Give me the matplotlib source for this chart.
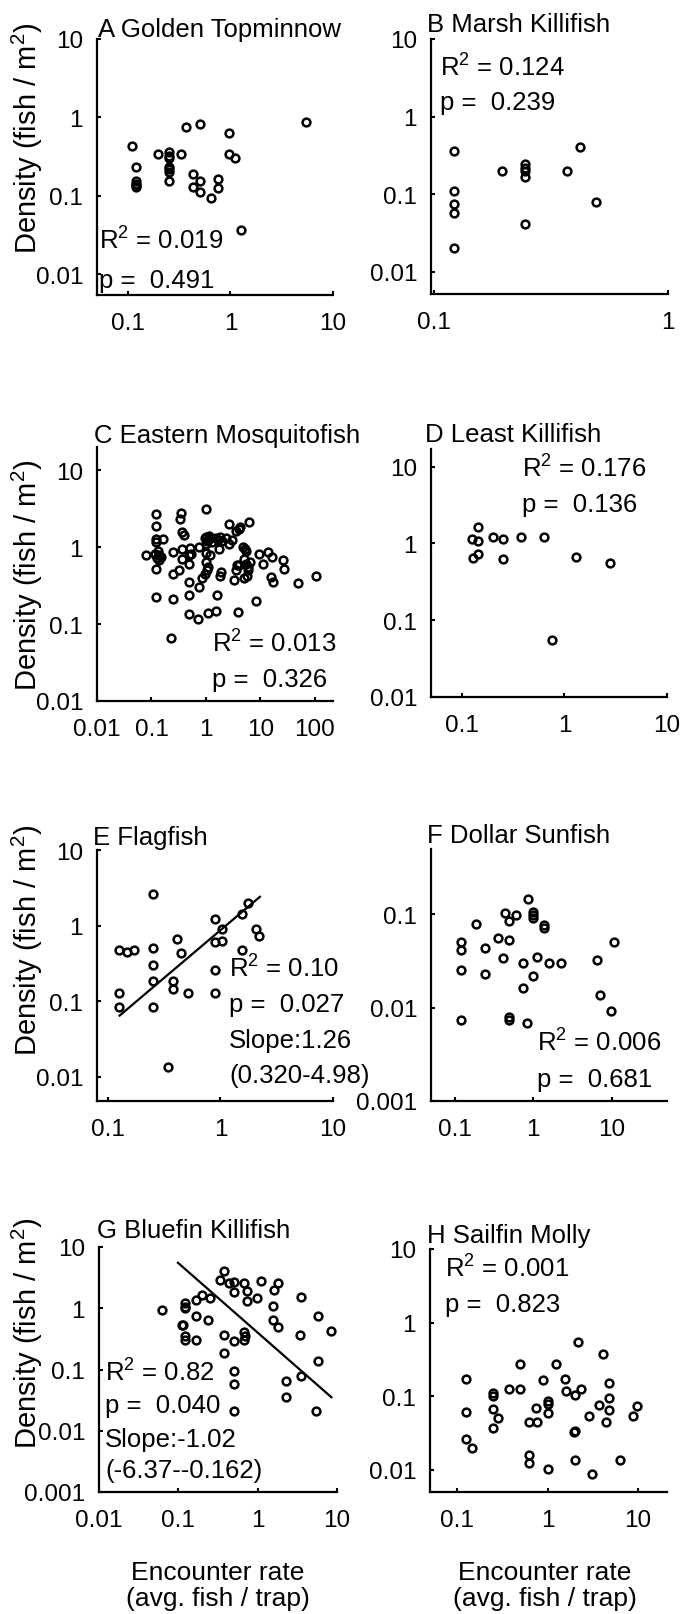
import matplotlib
matplotlib.use('Agg')
import numpy as np
import matplotlib.pyplot as plt
from matplotlib.ticker import FixedLocator, FixedFormatter, NullLocator

plt.rcParams['font.family'] = ['Liberation Sans', 'DejaVu Sans']
plt.rcParams['mathtext.fontset'] = 'custom'
plt.rcParams['mathtext.rm'] = 'Liberation Sans'
plt.rcParams['mathtext.it'] = 'Liberation Sans:italic'
plt.rcParams['mathtext.default'] = 'regular'

W, H = 682, 1615

# ---- data ----
a_x = [0.11, 0.12, 0.12, 0.12, 0.12, 0.12, 0.195, 0.25, 0.25, 0.25, 0.25, 0.25, 0.25, 0.25,
       0.33, 0.37, 0.5, 0.43, 0.43, 0.5, 0.5, 0.65, 0.76, 0.76, 0.96, 0.96, 1.1, 1.27, 5.5]
a_y = [0.43, 0.235, 0.155, 0.14, 0.135, 0.128, 0.34, 0.36, 0.32, 0.3, 0.23, 0.22, 0.2, 0.155,
       0.34, 0.76, 0.82, 0.19, 0.128, 0.155, 0.11, 0.094, 0.163, 0.124, 0.64, 0.34, 0.3, 0.036, 0.88]

b_x = [0.122, 0.122, 0.122, 0.122, 0.122, 0.195, 0.245, 0.245, 0.245, 0.245, 0.245, 0.37, 0.42, 0.49]
b_y = [0.36, 0.11, 0.074, 0.058, 0.0205, 0.2, 0.245, 0.22, 0.2, 0.168, 0.042, 0.2, 0.41, 0.08]

c_x = [0.079, 0.121, 0.121, 0.121, 0.121, 0.121, 0.121, 0.115, 0.125, 0.13, 0.14, 0.15, 0.135,
       0.16, 0.245, 0.245, 0.245, 0.32, 0.35, 0.33, 0.37, 0.39, 0.36, 0.37,
       0.49, 0.49, 0.49, 0.49, 0.49, 0.5, 0.53, 0.7, 0.23, 1.0, 0.75, 0.75,
       0.95, 1.0, 1.05, 1.1, 1.2, 1.3, 1.5, 1.7, 2.0, 2.3, 2.6, 3.0, 1.0, 1.15, 1.8,
       1.0, 1.1, 0.95, 0.85, 1.05, 1.2, 1.0, 1.76, 1.9, 1.85, 1.6,
       1.07, 1.5, 3.8, 8.3, 2.7, 4.0, 4.3, 3.6, 6.2, 5.2, 5.5, 4.8,
       5.0, 5.5, 5.8, 5.6, 5.0, 6.0, 6.5, 3.5, 3.3, 3.7, 4.0,
       9.5, 11, 13.5, 16.6, 25.5, 27, 15.6, 17, 48, 104]
c_y = [0.78, 2.7, 1.9, 1.28, 1.15, 0.52, 0.225, 0.82, 0.72, 0.88, 0.78, 0.75, 0.68,
       1.28, 0.86, 0.45, 0.21, 0.5, 2.8, 2.3, 1.56, 1.45, 0.95, 0.7,
       0.78, 0.6, 0.35, 0.24, 0.137, 0.98, 0.82, 0.118, 0.065, 3.1, 1.0, 0.3,
       1.3, 1.35, 1.2, 1.25, 1.3, 1.15, 1.3, 1.25, 1.2, 1.3, 1.1, 1.25, 1.1, 1.4, 1.35,
       0.65, 0.55, 0.45, 0.4, 0.5, 0.8, 0.85, 0.95, 0.48, 0.42, 0.24,
       0.138, 0.15, 0.145, 0.2, 2.0, 1.7, 1.8, 1.6, 2.1, 0.95, 0.9, 1.0,
       0.7, 0.6, 0.5, 0.42, 0.4, 0.55, 0.65, 0.5, 0.37, 0.58, 0.58,
       0.82, 0.61, 0.86, 0.74, 0.67, 0.52, 0.41, 0.35, 0.34, 0.42]

d_x = [0.125, 0.128, 0.143, 0.143, 0.143, 0.2, 0.25, 0.25, 0.38, 0.63, 0.76, 1.29, 2.76]
d_y = [1.13, 0.64, 1.63, 1.07, 0.73, 1.21, 1.13, 0.62, 1.21, 1.21, 0.056, 0.67, 0.55]

e_x = [0.125, 0.125, 0.125, 0.149, 0.17, 0.25, 0.25, 0.25, 0.25, 0.25, 0.34, 0.38, 0.38,
       0.41, 0.45, 0.51, 0.9, 0.9, 0.9, 0.9, 1.03, 1.03, 1.56, 1.77, 1.56, 2.08, 2.2]
e_y = [0.48, 0.128, 0.083, 0.45, 0.47, 2.6, 0.51, 0.30, 0.186, 0.083, 0.0135, 0.186, 0.145,
       0.66, 0.43, 0.13, 1.22, 0.61, 0.26, 0.128, 0.62, 0.9, 1.42, 2.0, 0.47, 0.9, 0.74]
e_fit_x = [0.127, 2.24]
e_slope, e_at1 = 1.26, 0.87

f_x = [0.86, 0.43, 0.61, 0.49, 1.0, 1.0, 1.0, 1.37, 1.37, 0.184, 0.122, 0.122, 0.122, 0.122,
       0.246, 0.246, 0.36, 0.49, 0.41, 0.745, 1.1, 1.6, 2.24, 0.98, 0.73, 0.49, 0.49, 0.82,
       10.5, 6.5, 7.1, 9.8]
f_y = [0.146, 0.102, 0.098, 0.084, 0.105, 0.097, 0.091, 0.077, 0.072, 0.079, 0.051, 0.041,
       0.025, 0.0074, 0.043, 0.023, 0.056, 0.053, 0.034, 0.030, 0.035, 0.030, 0.030, 0.022,
       0.0163, 0.0079, 0.0074, 0.0069, 0.050, 0.032, 0.0137, 0.0091]

g_x = [0.063, 0.12, 0.12, 0.12, 0.166, 0.20, 0.25, 0.166, 0.24, 0.11, 0.115, 0.12, 0.12, 0.166,
       0.38, 0.34, 0.43, 0.5, 0.5, 0.68, 0.74, 0.74, 0.99, 1.11, 1.6, 1.78, 1.55, 1.55, 1.8,
       3.5, 5.8, 8.5, 3.4, 5.7, 3.5, 2.3, 2.25, 5.4,
       0.38, 0.5, 0.68, 0.7, 0.68, 0.38, 0.5, 0.5, 0.5]
g_y = [0.94, 1.2, 1.06, 1.0, 1.37, 1.65, 1.45, 0.75, 0.65, 0.53, 0.53, 0.30, 0.35, 0.30,
       4.1, 2.9, 2.6, 2.7, 1.87, 2.6, 1.9, 1.32, 1.45, 2.8, 2.0, 2.6, 1.09, 0.65, 0.49,
       1.5, 0.75, 0.42, 0.36, 0.14, 0.079, 0.065, 0.036, 0.021,
       0.37, 0.29, 0.41, 0.35, 0.30, 0.185, 0.093, 0.059, 0.021]
g_fit_x = [0.099, 8.5]
g_slope, g_at1 = -1.135, 0.40

h_x = [0.125, 0.125, 0.125, 0.144, 0.25, 0.25, 0.25, 0.28, 0.25, 0.376, 0.5, 0.5, 0.62, 0.77,
       0.75, 0.62, 0.62, 0.88, 1.0, 1.0, 1.0, 1.0, 1.25, 1.57, 1.6, 2.0, 2.35, 1.95, 2.0,
       2.0, 2.17, 2.9, 3.1, 3.7, 4.1, 4.4, 4.8, 4.8, 4.8, 6.3, 8.9, 9.8]
h_y = [0.174, 0.062, 0.026, 0.020, 0.112, 0.1, 0.068, 0.05, 0.037, 0.124, 0.27, 0.127, 0.044,
       0.044, 0.07, 0.016, 0.0123, 0.166, 0.087, 0.078, 0.059, 0.0104, 0.27, 0.174, 0.118,
       0.105, 0.126, 0.033, 0.034, 0.0137, 0.55, 0.054, 0.0087, 0.077, 0.38, 0.044, 0.149,
       0.096, 0.065, 0.0137, 0.054, 0.074]

titles = ['A Golden Topminnow', 'B Marsh Killifish', 'C Eastern Mosquitofish', 'D Least Killifish',
          'E Flagfish', 'F Dollar Sunfish', 'G Bluefin Killifish', 'H Sailfin Molly']
stats = [['R$^2$ = 0.019', 'p =  0.491'],
         ['R$^2$ = 0.124', 'p =  0.239'],
         ['R$^2$ = 0.013', 'p =  0.326'],
         ['R$^2$ = 0.176', 'p =  0.136'],
         ['R$^2$ = 0.10', 'p =  0.027', 'Slope:1.26', '(0.320-4.98)'],
         ['R$^2$ = 0.006', 'p =  0.681'],
         ['R$^2$ = 0.82', 'p =  0.040', 'Slope:-1.02', '(-6.37--0.162)'],
         ['R$^2$ = 0.001', 'p =  0.823']]

fig = plt.figure(figsize=(W / 100, H / 100), dpi=100)


def make_ax(box):
    x0, y0, x1, y1 = box
    return fig.add_axes([x0 / W, 1 - y1 / H, (x1 - x0) / W, (y1 - y0) / H])


def fmt(v):
    return ('%g' % v)


panels = [
    # box (px), xlim, ylim, xticks, yticks, title pos, stats x, stats baselines
    dict(x=a_x, y=a_y, box=(97, 40, 333, 296), xl=(0.05, 10), yl=(0.0054, 10),
         xt=[0.1, 1, 10], yt=[0.01, 0.1, 1, 10], tp=(98, 37), sx=0.01, sy=[0.18, 0.03]),
    dict(x=b_x, y=b_y, box=(431, 40, 668, 295), xl=(0.097, 1.0), yl=(0.0052, 10),
         xt=[0.1, 1], yt=[0.01, 0.1, 1, 10], tp=(427, 32), sx=0.04, sy=[0.855, 0.725]),
    dict(x=c_x, y=c_y, box=(97, 448, 333, 702), xl=(0.01, 215), yl=(0.01, 20),
         xt=[0.01, 0.1, 1, 10, 100], yt=[0.01, 0.1, 1, 10], tp=(94, 443), sx=0.487, sy=[0.193, 0.06]),
    dict(x=d_x, y=d_y, box=(431, 450, 667, 698), xl=(0.05, 10), yl=(0.01, 17),
         xt=[0.1, 1, 10], yt=[0.01, 0.1, 1, 10], tp=(425, 442), sx=0.385, sy=[0.89, 0.75]),
    dict(x=e_x, y=e_y, box=(97, 851, 333, 1102), xl=(0.08, 10), yl=(0.0048, 10),
         xt=[0.1, 1, 10], yt=[0.01, 0.1, 1, 10], tp=(93, 845), sx=0.56,
         sy=[0.494, 0.359, 0.215, 0.076], fit=(e_fit_x, e_slope, e_at1)),
    dict(x=f_x, y=f_y, box=(431, 850, 667, 1102), xl=(0.05, 50), yl=(0.001, 0.5),
         xt=[0.1, 1, 10], yt=[0.001, 0.01, 0.1], tp=(427, 843), sx=0.45, sy=[0.2, 0.06]),
    dict(x=g_x, y=g_y, box=(99, 1248, 337, 1493), xl=(0.01, 10), yl=(0.001, 10),
         xt=[0.01, 0.1, 1, 10], yt=[0.001, 0.01, 0.1, 1, 10], tp=(97, 1238), sx=0.025,
         sy=[0.453, 0.326, 0.188, 0.06], fit=(g_fit_x, g_slope, g_at1)),
    dict(x=h_x, y=h_y, box=(430, 1250, 667, 1493), xl=(0.05, 21), yl=(0.005, 10),
         xt=[0.1, 1, 10], yt=[0.01, 0.1, 1, 10], tp=(427, 1243), sx=0.063, sy=[0.885, 0.745]),
]

for i, p in enumerate(panels):
    ax = make_ax(p['box'])
    ax.set_xscale('log')
    ax.set_yscale('log')
    ax.plot(p['x'], p['y'], 'o', ms=5.6, mfc='none', mec='black', mew=1.8, clip_on=False)
    if 'fit' in p:
        fx, slope, at1 = p['fit']
        fx = np.array(fx)
        ax.plot(fx, at1 * fx ** slope, color='black', lw=1.6)
    ax.set_xlim(*p['xl'])
    ax.set_ylim(*p['yl'])
    ax.xaxis.set_major_locator(FixedLocator(p['xt']))
    ax.xaxis.set_major_formatter(FixedFormatter([fmt(v) for v in p['xt']]))
    ax.yaxis.set_major_locator(FixedLocator(p['yt']))
    ax.yaxis.set_major_formatter(FixedFormatter([fmt(v) for v in p['yt']]))
    ax.xaxis.set_minor_locator(NullLocator())
    ax.yaxis.set_minor_locator(NullLocator())
    for s in ['top', 'right']:
        ax.spines[s].set_visible(False)
    for s in ['left', 'bottom']:
        ax.spines[s].set_linewidth(1.6)
    ax.tick_params(direction='in', length=3, width=1.5, labelsize=17.5)
    ax.tick_params(axis='x', pad=12)
    ax.tick_params(axis='y', pad=10)
    ax.patch.set_alpha(0)
    for line, fy in zip(stats[i], p['sy']):
        ax.text(p['sx'], fy, line, transform=ax.transAxes, fontsize=18.5, va='baseline', ha='left')
    tx, ty = p['tp']
    fig.text(tx / W, 1 - ty / H, titles[i], fontsize=18.5, va='baseline', ha='left')

for cy in [138, 575, 940, 1333]:
    fig.text(27 / W, 1 - cy / H, 'Density (fish / m$^2$)', rotation=90, fontsize=21,
             ha='center', va='center')

for cx in [218, 545]:
    fig.text(cx / W, 1 - 1580 / H, 'Encounter rate', fontsize=19, ha='center', va='baseline')
    fig.text(cx / W, 1 - 1606 / H, '(avg. fish / trap)', fontsize=19, ha='center', va='baseline')

fig.savefig('out.png', dpi=100)
